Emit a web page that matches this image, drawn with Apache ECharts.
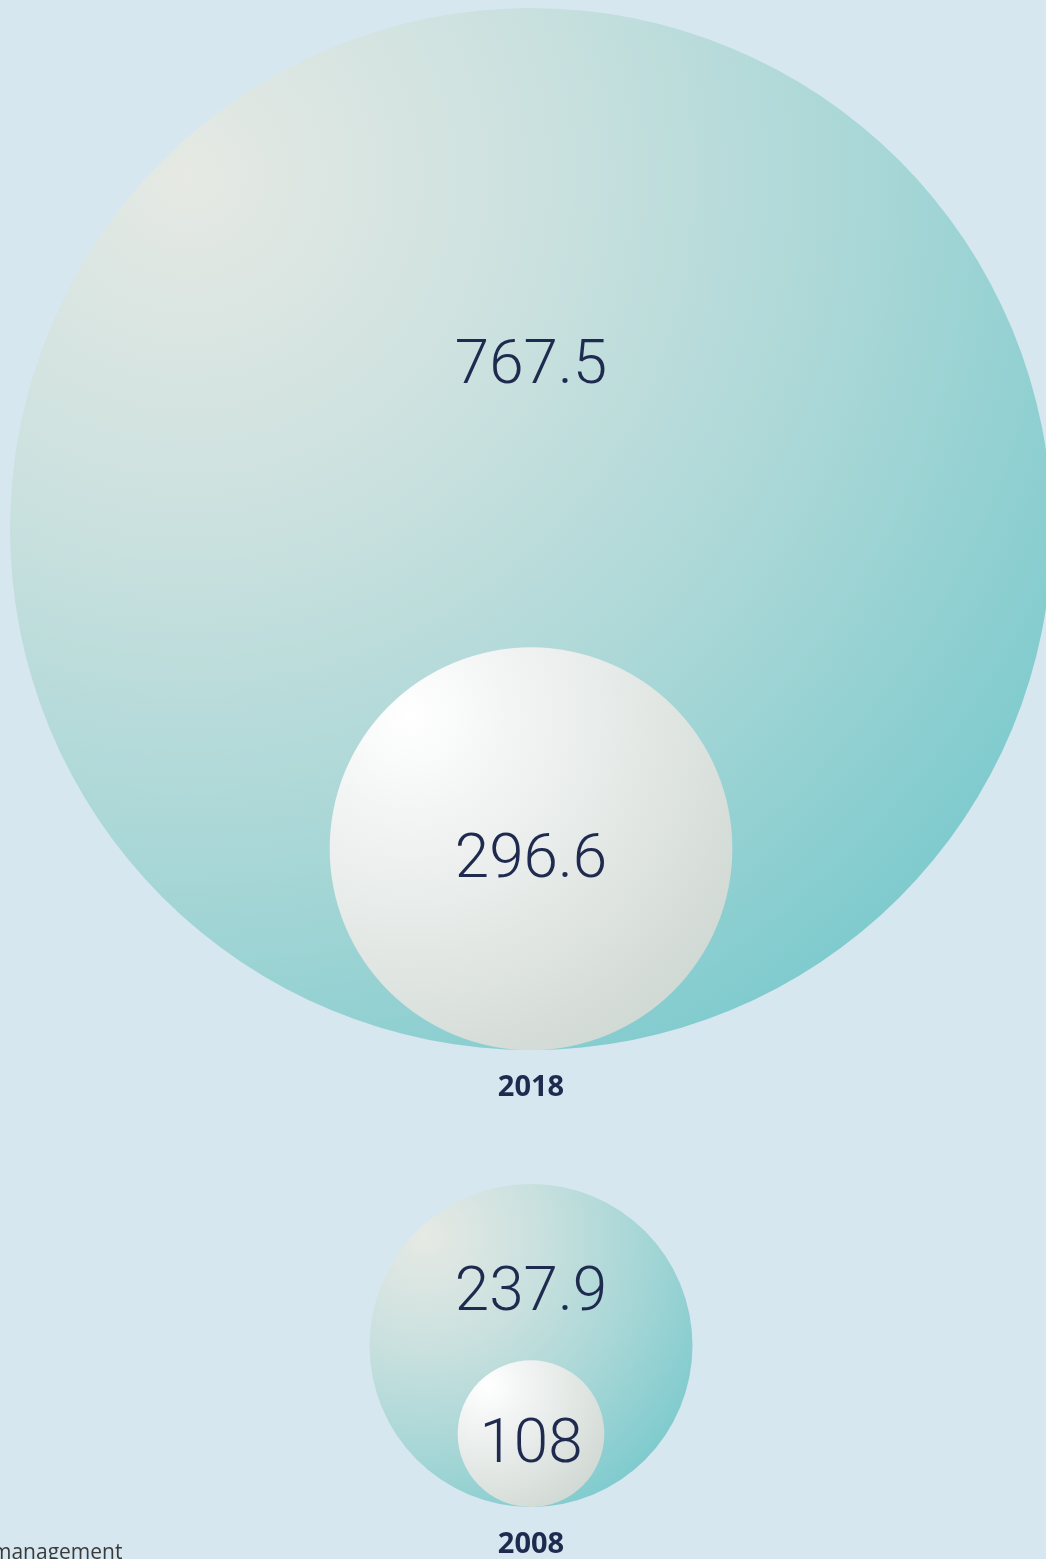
<!DOCTYPE html>
<html style="height: 100%">
  <head>
    <meta charset="UTF-8" />
    <title>Bubbles</title>
    <script src="https://cdn.jsdelivr.net/npm/echarts@6/dist/echarts.min.js"></script>
  </head>
  <body style="height: 100%; margin: 0; background: #d6e7ef">
    <div id="main" style="width: 1046px; height: 1559px"></div>
    <script>
      const chart = echarts.init(document.getElementById('main'))

      const years = ['2018', '2008']
      const totalValues = [767.5, 237.9]
      const innerValues = [296.6, 108]

      // layout (pixels)
      const pxPerUnit = 521 / 767.5
      const centerX = 531
      const baselines = [1050, 1507]
      const labelPos = ['34.2%', '33.5%']

      const navy = '#1f2a4f'

      const outerColor = {
        type: 'radial', x: 0.17, y: 0.16, r: 0.97,
        colorStops: [
          { offset: 0, color: '#e6e9e4' },
          { offset: 0.35, color: '#cbe1df' },
          { offset: 0.7, color: '#a6d6d6' },
          { offset: 1, color: '#80cbce' },
        ],
      }
      const innerColor = {
        type: 'radial', x: 0.2, y: 0.17, r: 0.95,
        colorStops: [
          { offset: 0, color: '#ffffff' },
          { offset: 0.5, color: '#e8ecea' },
          { offset: 1, color: '#d1d9d4' },
        ],
      }

      const bubble = (v, i, extra) => ({
        value: [centerX, baselines[i] - v * pxPerUnit, v],
        symbolSize: 2 * v * pxPerUnit,
        ...extra,
      })

      const numLabel = {
        show: true,
        formatter: (p) => String(p.value[2]),
        color: navy,
        fontFamily: '"Roboto Light", "Lato Light", "Inter Light", Roboto',
        fontWeight: 300,
        fontSize: 62,
        align: 'center',
        verticalAlign: 'middle',
      }

      const option = {
        backgroundColor: '#d6e7ef',
        animation: false,
        grid: { left: 0, right: 0, top: 0, bottom: 0 },
        xAxis: { type: 'value', min: 0, max: 1046, show: false },
        yAxis: { type: 'value', min: 0, max: 1559, inverse: true, show: false },
        series: [
          {
            type: 'scatter',
            silent: true,
            clip: false,
            itemStyle: { color: outerColor, opacity: 1 },
            label: numLabel,
            data: totalValues.map((v, i) =>
              bubble(v, i, { label: { position: ['50%', labelPos[i]] } })
            ),
          },
          {
            type: 'scatter',
            silent: true,
            clip: false,
            itemStyle: { color: innerColor, opacity: 1 },
            label: { ...numLabel, position: 'inside', offset: [0, 10] },
            data: innerValues.map((v, i) => bubble(v, i)),
          },
          {
            type: 'scatter',
            silent: true,
            symbolSize: 0,
            itemStyle: { opacity: 1 },
            label: {
              show: true,
              position: 'bottom',
              distance: 23,
              formatter: (p) => years[p.dataIndex],
              color: navy,
              fontFamily: 'Open Sans',
              fontWeight: 'bold',
              fontSize: 29,
            },
            data: years.map((y, i) => [centerX, baselines[i]]),
          },
        ],
        graphic: [
          {
            type: 'text',
            left: -8,
            top: 1543,
            style: {
              text: 'management',
              font: '21px "Open Sans"',
              fill: '#3a3a3a',
            },
          },
        ],
      }

      chart.setOption(option)
    </script>
  </body>
</html>
